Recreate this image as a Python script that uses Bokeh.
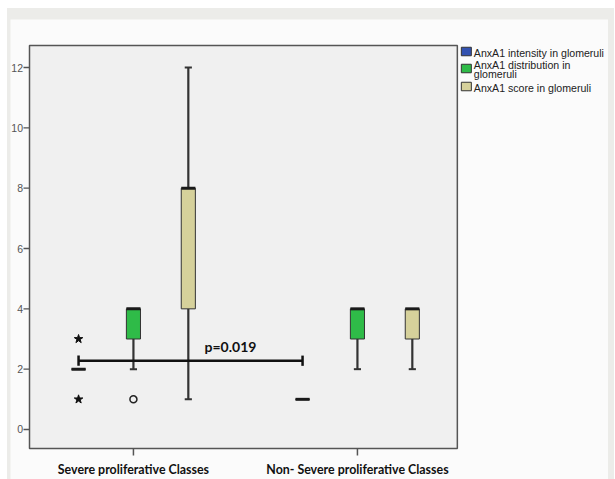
from bokeh.plotting import figure
from bokeh.models import ColumnDataSource, Label, Range1d
from bokeh.layouts import column
from bokeh.embed import file_html
from bokeh.resources import INLINE

# ---- data ----
groups = ["Severe proliferative Classes", "Non- Severe proliferative Classes"]
series = ["AnxA1 intensity in glomeruli", "AnxA1 distribution in\nglomeruli", "AnxA1 score in glomeruli"]
colors = ["#3352b0", "#2fbb48", "#d6d19b"]

intensity_q1 = [2, 1]
intensity_med = [2, 1]
intensity_q3 = [2, 1]
intensity_lo = [2, 1]
intensity_hi = [2, 1]

distribution_q1 = [3, 3]
distribution_med = [4, 4]
distribution_q3 = [4, 4]
distribution_lo = [2, 2]
distribution_hi = [4, 4]

score_q1 = [4, 3]
score_med = [8, 4]
score_q3 = [8, 4]
score_lo = [1, 2]
score_hi = [12, 4]

# extreme values (stars) and outliers (circles): (group index, value)
intensity_extremes_group = [0, 0]
intensity_extremes_val = [3, 1]
distribution_outlier_group = [0]
distribution_outlier_val = [1]

p_text = "p=0.019"
y_ticks = [0, 2, 4, 6, 8, 10, 12]
y_tick_labels = ["0", "2", "4", "6", "8", "10", "12"]

stats = [
    (intensity_q1, intensity_med, intensity_q3, intensity_lo, intensity_hi),
    (distribution_q1, distribution_med, distribution_q3, distribution_lo, distribution_hi),
    (score_q1, score_med, score_q3, score_lo, score_hi),
]

# ---- layout/style ----
offsets = [-0.245, 0.0, 0.245]
box_w = 0.063
cap_w = 0.032
x0, x1 = -0.464, 1.446       # plot box extent along x
y0, y1 = -0.63, 12.73        # plot box extent along y
W, H = 598, 460
left_px, bottom_px = 19, 31
px_per_x = 224.0
px_per_y = 403.0 / (y1 - y0)
xs_start = x0 - left_px / px_per_x
ys_start = y0 - bottom_px / px_per_y

p = figure(width=W, height=H, output_backend="svg", toolbar_location=None,
           x_range=Range1d(xs_start, xs_start + W / px_per_x),
           y_range=Range1d(ys_start, ys_start + H / px_per_y),
           min_border=0, background_fill_color="#fbfbfb", border_fill_color="#fbfbfb")
p.outline_line_color = None
p.xgrid.visible = False
p.ygrid.visible = False
p.xaxis.visible = False
p.yaxis.visible = False

# plot box
p.quad(left=[x0], right=[x1], bottom=[y0], top=[y1], fill_color="#f0f0f0",
       line_color="#555555", line_width=1.5)

# y ticks and labels
p.segment(x0=[x0 - 6 / px_per_x] * len(y_ticks), y0=y_ticks, x1=[x0] * len(y_ticks), y1=y_ticks,
          line_color="#555555", line_width=1.3)
p.text(x=[x0 - 6.5 / px_per_x] * len(y_ticks), y=y_ticks, text=y_tick_labels,
       text_align="right", text_baseline="middle", text_font_size="10.5px",
       text_color="#555555", text_font={"value": "Liberation Sans"})

# x ticks and labels
gx = list(range(len(groups)))
p.segment(x0=gx, y0=[y0 - 7 / px_per_y] * len(gx), x1=gx, y1=[y0] * len(gx),
          line_color="#555555", line_width=1.5)
p.text(x=gx, y=[y0 - 21 / px_per_y] * len(gx), text=groups, text_align="center",
       text_baseline="middle", text_font_size="12.4px", text_font_style="bold",
       text_color="#111111", text_font={"value": "Lato"})

for si, (q1, med, q3, lo, hi) in enumerate(stats):
    xs = [g + offsets[si] for g in range(len(groups))]
    wx, wy0, wy1 = [], [], []
    cx, cy = [], []
    for x, a, b, c, d in zip(xs, q1, q3, lo, hi):
        if c < a:
            wx.append(x); wy0.append(c); wy1.append(a)
            cx.append(x); cy.append(c)
        if d > b:
            wx.append(x); wy0.append(b); wy1.append(d)
            cx.append(x); cy.append(d)
    if wx:
        p.segment(x0=wx, y0=wy0, x1=wx, y1=wy1, line_color="#333333", line_width=2.2)
        p.segment(x0=[x - cap_w / 2 for x in cx], y0=cy, x1=[x + cap_w / 2 for x in cx], y1=cy,
                  line_color="#333333", line_width=2)
    src = ColumnDataSource(dict(left=[x - box_w / 2 for x in xs], right=[x + box_w / 2 for x in xs],
                                bottom=q1, top=q3))
    p.quad(left="left", right="right", bottom="bottom", top="top", source=src,
           fill_color=colors[si], line_color="#333333", line_width=1)
    p.segment(x0=[x - box_w / 2 for x in xs], y0=med, x1=[x + box_w / 2 for x in xs], y1=med,
              line_color="#1a1a1a", line_width=3)

# extremes and outliers
p.scatter(x=[g + offsets[0] for g in intensity_extremes_group], y=intensity_extremes_val,
          marker="star", size=9, fill_color="#111111", line_color="#111111")
p.scatter(x=[g + offsets[1] for g in distribution_outlier_group], y=distribution_outlier_val,
          marker="circle", size=7, fill_color=None, line_color="#222222", line_width=1.5)

# significance bracket
bx0, bx1 = 0 + offsets[0], 1 + offsets[0]
by = 2.28
cap_h = 0.17
p.segment(x0=[bx0], y0=[by], x1=[bx1], y1=[by], line_color="#111111", line_width=2.5)
p.segment(x0=[bx0, bx1], y0=[by - cap_h] * 2, x1=[bx0, bx1], y1=[by + cap_h] * 2,
          line_color="#111111", line_width=2.5)
p.add_layout(Label(x=(bx0 + bx1) / 2 + 0.178, y=by + 0.2, text=p_text, text_align="center",
                   text_font="Lato", text_font_style="bold", text_font_size="14px",
                   text_color="#111111"))

# legend (drawn outside the plot box, to its right)
item_center_px = [6, 23, 41]     # below the box top
line_px = 8.5
sq_x = x1 + 9 / px_per_x
txt_x = x1 + 16.5 / px_per_x
p.rect(x=[sq_x] * len(series), y=[y1 - c / px_per_y for c in item_center_px],
       width=10, height=8.5, width_units="screen", height_units="screen",
       fill_color=colors, line_color="#333333", line_width=1)
tx, ty, tt = [], [], []
for c, name in zip(item_center_px, series):
    lines = name.split("\n")
    n = len(lines)
    for k, ln in enumerate(lines):
        tx.append(txt_x)
        ty.append(y1 - (c + 1 + (k - (n - 1) / 2) * line_px) / px_per_y)
        tt.append(ln)
p.text(x=tx, y=ty, text=tt, text_align="left", text_baseline="middle", text_font_size="10.6px",
       text_color="#222222", text_font={"value": "Liberation Sans"})

layout = column(p, styles={"background-color": "#ecece9", "padding": "11px 6px 0px 3px",
                           "margin": "8px 0px 0px 7px"})

open("out.html", "w").write(file_html(layout, INLINE))
